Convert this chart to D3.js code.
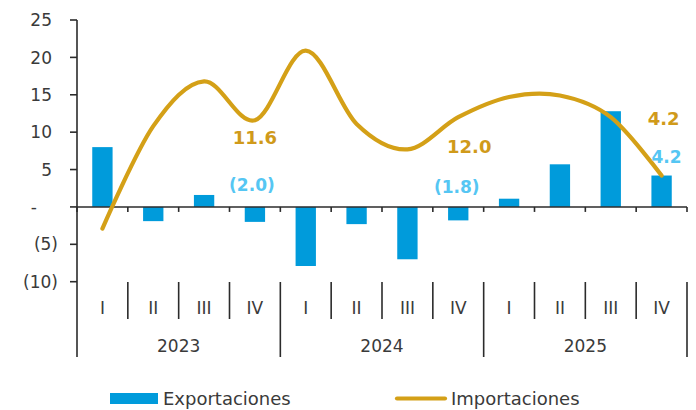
<!DOCTYPE html>
<html>
<head>
<meta charset="utf-8">
<script src="https://cdn.jsdelivr.net/npm/d3@7"></script>
<style>
  html, body { margin: 0; padding: 0; background: #fff; }
  svg { display: block; }
  text { font-family: "DejaVu Sans", Verdana, sans-serif; }
</style>
</head>
<body>
<svg id="chart" width="696" height="410"></svg>
<script>
// ---- Data ----
const quarters = ["I", "II", "III", "IV", "I", "II", "III", "IV", "I", "II", "III", "IV"];
const years = ["2023", "2024", "2025"];
const exportaciones = [8.0, -1.9, 1.6, -2.0, -7.9, -2.3, -7.0, -1.8, 1.1, 5.7, 12.8, 4.2];
const importaciones = [-2.9, 10.8, 16.8, 11.6, 20.9, 11.1, 7.7, 12.0, 14.7, 14.9, 12.0, 4.2];
const yTicks = [-10, -5, 0, 5, 10, 15, 20, 25];
const seriesNames = ["Exportaciones", "Importaciones"];
// data labels shown (indices)
const importLabels = [3, 7, 11];
const exportLabels = [3, 7, 11];

// ---- Layout / style ----
const W = 696, H = 410;
const mLeft = 77, mRight = 687, mTop = 20, mBottom = 281.7;
const blue = "#009BDB", gold = "#D4A017";
const goldText = "#D09A1A", blueText = "#55C6F3";
const axisColor = "#2b2b2b", textColor = "#3a3a3a";
const fs = 17;

const svg = d3.select("#chart");
const idx = d3.range(quarters.length);

const x = d3.scaleBand().domain(idx).range([mLeft, mRight]).padding(0);
const y = d3.scaleLinear().domain([-10, 25]).range([mBottom, mTop]);
const bw = x.bandwidth();
const cx = i => x(i) + bw / 2;

// Bars
svg.append("g").selectAll("rect").data(exportaciones).join("rect")
  .attr("x", (d, i) => cx(i) - bw * 0.2)
  .attr("width", bw * 0.4)
  .attr("y", d => y(Math.max(0, d)))
  .attr("height", d => Math.abs(y(d) - y(0)))
  .attr("fill", blue);

// Zero line with ticks
const g0 = svg.append("g");
g0.append("line").attr("x1", mLeft).attr("x2", mRight).attr("y1", y(0)).attr("y2", y(0))
  .attr("stroke", axisColor).attr("stroke-width", 1.6);
g0.selectAll("line.t").data(d3.range(quarters.length + 1)).join("line").attr("class", "t")
  .attr("x1", i => mLeft + i * bw).attr("x2", i => mLeft + i * bw)
  .attr("y1", y(0)).attr("y2", y(0) + 5)
  .attr("stroke", axisColor).attr("stroke-width", 1.6);

// Line
const line = d3.line().x((d, i) => cx(i)).y(d => y(d)).curve(d3.curveCardinal.tension(0));
svg.append("path").datum(importaciones).attr("d", line)
  .attr("fill", "none").attr("stroke", gold).attr("stroke-width", 4.2)
  .attr("stroke-linecap", "round").attr("stroke-linejoin", "round");

// Y axis
const ga = svg.append("g");
ga.append("line").attr("x1", mLeft).attr("x2", mLeft).attr("y1", y(25)).attr("y2", 357)
  .attr("stroke", axisColor).attr("stroke-width", 1.6);
ga.selectAll("line.yt").data(yTicks).join("line").attr("class", "yt")
  .attr("x1", mLeft - 7).attr("x2", mLeft).attr("y1", d => y(d)).attr("y2", d => y(d))
  .attr("stroke", axisColor).attr("stroke-width", 1.6);
const fmt = d => d === 0 ? "-" : (d < 0 ? "(" + Math.abs(d) + ")" : String(d));
ga.selectAll("text").data(yTicks).join("text")
  .attr("x", d => d === 0 ? 37 : (d < 0 ? 58 : 52))
  .attr("y", d => y(d))
  .attr("dy", "0.36em")
  .attr("text-anchor", "end")
  .attr("font-size", fs).attr("fill", textColor)
  .text(fmt);

// Category axis (multi-level)
const cat = svg.append("g");
const catTop = 282, qBottom = 319, yBottom = 357;
cat.selectAll("line.q").data(d3.range(1, quarters.length + 1)).join("line").attr("class", "q")
  .attr("x1", i => mLeft + i * bw).attr("x2", i => mLeft + i * bw)
  .attr("y1", catTop).attr("y2", i => i % 4 === 0 ? yBottom : qBottom)
  .attr("stroke", axisColor).attr("stroke-width", 1.6);
cat.selectAll("text.q").data(quarters).join("text").attr("class", "q")
  .attr("x", (d, i) => cx(i)).attr("y", 308).attr("dy", "0.36em")
  .attr("text-anchor", "middle").attr("font-size", fs).attr("fill", textColor)
  .text(d => d);
cat.selectAll("text.yr").data(years).join("text").attr("class", "yr")
  .attr("x", (d, k) => mLeft + (k * 4 + 2) * bw).attr("y", 346).attr("dy", "0.36em")
  .attr("text-anchor", "middle").attr("font-size", fs).attr("fill", textColor)
  .text(d => d);

// Data labels
const fmtLab = d => d < 0 ? "(" + Math.abs(d).toFixed(1) + ")" : d.toFixed(1);
const impOff = { 3: [0, 17], 7: [11, 29.5], 11: [2, -57] };
const expOff = { 3: [-3, -37], 7: [-1.5, -34], 11: [5, -18.5] };
svg.selectAll("text.il").data(importLabels).join("text").attr("class", "il")
  .attr("x", i => cx(i) + impOff[i][0]).attr("y", i => y(importaciones[i]) + impOff[i][1])
  .attr("dy", "0.36em").attr("text-anchor", "middle")
  .attr("font-size", 18).attr("font-weight", "bold").attr("fill", goldText)
  .text(i => fmtLab(importaciones[i]));
svg.selectAll("text.el").data(exportLabels).join("text").attr("class", "el")
  .attr("x", i => cx(i) + expOff[i][0]).attr("y", i => y(exportaciones[i]) + expOff[i][1])
  .attr("dy", "0.36em").attr("text-anchor", "middle")
  .attr("font-size", 17).attr("font-weight", "bold").attr("fill", blueText)
  .text(i => fmtLab(exportaciones[i]));

// Legend
const lg = svg.append("g");
lg.append("rect").attr("x", 110).attr("y", 393).attr("width", 48).attr("height", 11).attr("fill", blue);
lg.append("text").attr("x", 163).attr("y", 398.5).attr("dy", "0.36em")
  .attr("font-size", fs + 1).attr("fill", textColor).text(seriesNames[0]);
lg.append("line").attr("x1", 397).attr("x2", 445).attr("y1", 398.5).attr("y2", 398.5)
  .attr("stroke", gold).attr("stroke-width", 4.2).attr("stroke-linecap", "round");
lg.append("text").attr("x", 451).attr("y", 398.5).attr("dy", "0.36em")
  .attr("font-size", fs + 1).attr("fill", textColor).text(seriesNames[1]);
</script>
</body>
</html>
